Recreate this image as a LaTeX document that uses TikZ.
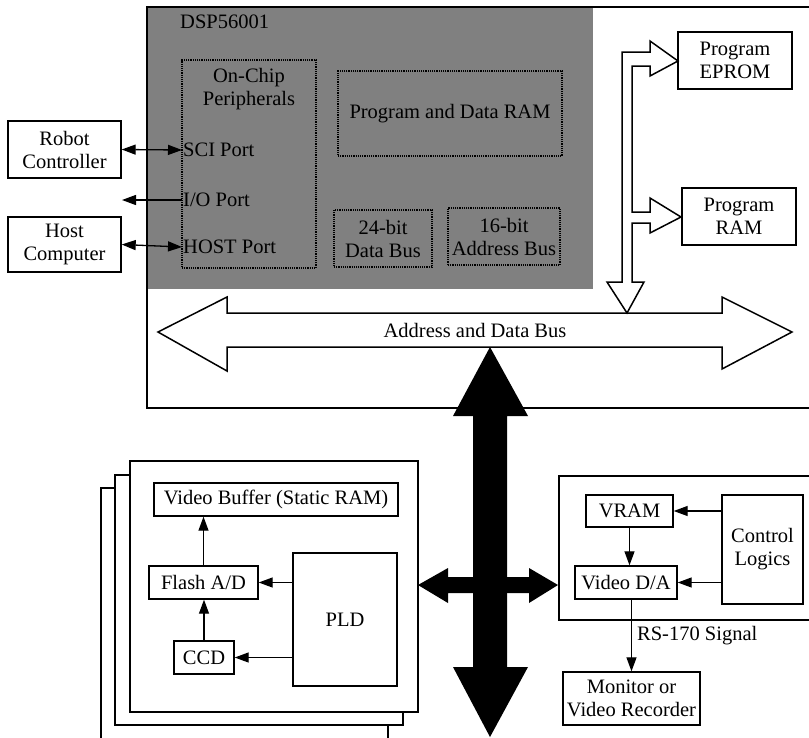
\documentclass[tikz,border=0pt]{standalone}
\usepackage{fontspec}
\setmainfont{Liberation Serif}
\usepackage{tikz}
\usetikzlibrary{arrows.meta,positioning,calc}

\tikzset{
    blk/.style={draw, line width=1.4pt, fill=white, align=center, inner sep=0pt,
        font=\fontsize{20.5}{23}\selectfont},
    dotblk/.style={draw, densely dotted, line width=1.2pt, align=center, inner sep=0pt,
        font=\fontsize{20.5}{23}\selectfont},
    lbl/.style={inner sep=1pt, align=center, font=\fontsize{20.5}{23}\selectfont},
    sig/.style={line width=1.3pt, -{Triangle[length=14pt,width=10pt]}},
    dsig/.style={line width=1.3pt, {Triangle[length=14pt,width=10pt]}-{Triangle[length=14pt,width=10pt]}},
    bus/.style={draw, line width=1.5pt, fill=white, line join=miter},
    fatbus/.style={fill=black}
}

\begin{document}
\begin{tikzpicture}[x=1pt, y=-1pt]
    \useasboundingbox (0,0) rectangle (809,737);

    % DSP chip (shaded area)
    \fill[black!50] (147,7) rectangle (593,289);
    \node[lbl, anchor=west] (dsp) at (179,22) {DSP56001};

    % Main board outline (open to the right)
    \draw[line width=2.2pt] (812,7) -- (147,7) -- (147,408) -- (812,408);

    % On-chip blocks
    \node[dotblk, minimum width=134pt, minimum height=208pt] (periph) at (249,164) {};
    \node[lbl] (periphtitle) at (249,89) {On-Chip\\Peripherals};
    \node[lbl, anchor=west] (sci) at (182,150) {SCI Port};
    \node[lbl, anchor=west] (io) at (182,200) {I/O Port};
    \node[lbl, anchor=west] (hostport) at (182,247) {HOST Port};
    \node[dotblk, minimum width=224pt, minimum height=85pt] (pdram) at (450,113.5) {Program and Data RAM};
    \node[dotblk, minimum width=98pt, minimum height=57pt] (dbus) at (383,238.5) {24-bit\\Data Bus};
    \node[dotblk, minimum width=112pt, minimum height=57pt] (abus) at (504,236.5) {16-bit\\Address Bus};

    % External devices
    \node[blk, minimum width=113pt, minimum height=57pt] (robot) at (64.5,149.5) {Robot\\Controller};
    \node[blk, minimum width=113pt, minimum height=55pt] (host) at (64.5,244.5) {Host\\Computer};
    \coordinate (ioout) at (122,200);
    \draw[dsig] (robot.east) -- (sci.west);
    \draw[dsig] (host.east) -- (hostport.west);
    \draw[sig] (io.west) -- (ioout);

    % Program memories
    \node[blk, minimum width=114pt, minimum height=57pt] (eprom) at (735,60.5) {Program\\EPROM};
    \node[blk, minimum width=114pt, minimum height=57pt] (pram) at (739,216.5) {Program\\RAM};

    % Address and data bus
    \draw[bus] (158,332) -- (227,297) -- (227,313) -- (722,313) -- (722,297) -- (792,332)
        -- (722,369) -- (722,347) -- (227,347) -- (227,371) -- cycle;
    \node[lbl] (buslbl) at (475,330) {Address and Data Bus};

    % Branch to the memories
    \draw[bus] (627,313) -- (644,282) -- (632,282) -- (632,223) -- (650,223) -- (650,233)
        -- (681,217) -- (650,198) -- (650,212) -- (632,212) -- (632,66) -- (650,66)
        -- (650,76) -- (678,61) -- (650,41) -- (650,52) -- (622,52) -- (622,282)
        -- (607,282) -- cycle;

    % Frame grabber boards (stacked)
    \filldraw[fill=white, line width=1.4pt] (101,740) -- (101,488) -- (388,488) -- (388,740);
    \filldraw[fill=white, line width=1.4pt] (115,475) rectangle (403,725);
    \filldraw[fill=white, line width=1.4pt] (130,461) rectangle (418,712);
    \node[blk, minimum width=244pt, minimum height=33pt] (vbuf) at (276,499.5) {Video Buffer (Static RAM)};
    \node[blk, minimum width=109pt, minimum height=33pt] (flash) at (203.5,582.5) {Flash A/D};
    \node[blk, minimum width=60pt, minimum height=33pt] (ccd) at (204,657.5) {CCD};
    \node[blk, minimum width=104pt, minimum height=133pt] (pld) at (345,619.5) {PLD};
    \draw[sig] (flash.north) -- (flash.north |- vbuf.south);
    \draw[sig] (ccd.north) -- (ccd.north |- flash.south);
    \draw[sig] (pld.west |- flash) -- (flash.east);
    \draw[sig] (pld.west |- ccd) -- (ccd.east);

    % Video output board (open to the right)
    \draw[line width=1.4pt] (812,476) -- (559,476) -- (559,620) -- (812,620);
    \node[blk, minimum width=87pt, minimum height=32pt] (vram) at (629.5,511) {VRAM};
    \node[blk, minimum width=102pt, minimum height=33pt] (vda) at (626,582.5) {Video D/A};
    \node[blk, minimum width=81pt, minimum height=109pt] (ctrl) at (762.5,549.5) {Control\\Logics};
    \node[blk, minimum width=137pt, minimum height=53pt] (monitor) at (631.5,698.5) {Monitor or\\Video Recorder};
    \draw[sig] (ctrl.west |- vram) -- (vram.east);
    \draw[sig] (ctrl.west |- vda) -- (vda.east);
    \draw[sig] (vram.south) -- (vram.south |- vda.north);
    \draw[sig] (vda.south -| monitor.north) -- (monitor.north)
        node[lbl, midway, right=4pt] {RS-170 Signal};

    % System bus to the boards
    \fill[fatbus] (490,347) -- (528,416) -- (507,416) -- (507,667) -- (528,667) -- (490,737)
        -- (453,667) -- (473,667) -- (473,416) -- (453,416) -- cycle;
    \fill[fatbus] (418,585) -- (448,568) -- (448,577) -- (529,577) -- (529,568) -- (558,585)
        -- (529,603) -- (529,593) -- (448,593) -- (448,603) -- cycle;
\end{tikzpicture}
\end{document}
